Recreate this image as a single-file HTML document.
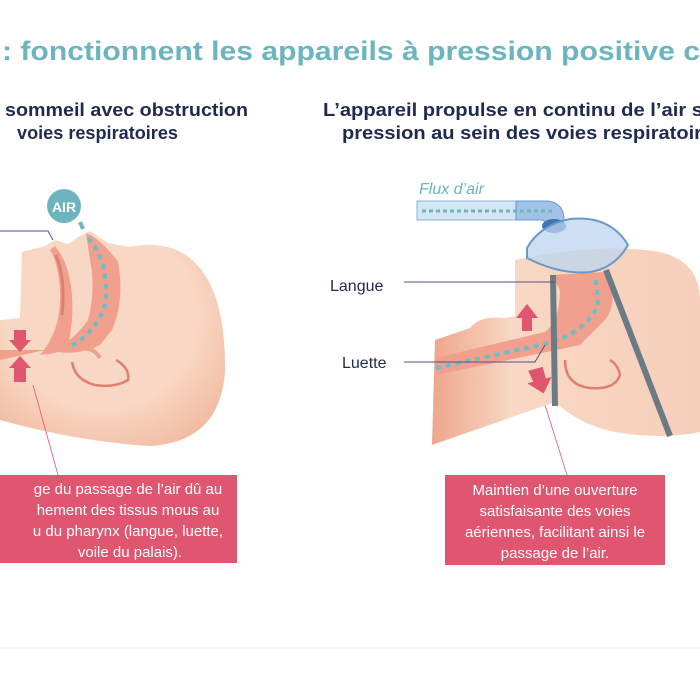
<!DOCTYPE html>
<html><head><meta charset="utf-8"><style>html,body{margin:0;padding:0;background:#fff;width:700px;height:700px;overflow:hidden}svg{display:block}</style></head>
<body>
<svg width="700" height="700" viewBox="0 0 700 700" xmlns="http://www.w3.org/2000/svg" font-family="Liberation Sans, Arial, sans-serif">
<defs>
<radialGradient id="sk" cx="0.45" cy="0.4" r="0.7"><stop offset="0.6" stop-color="#f8d8c4"/><stop offset="1" stop-color="#f1b9a0"/></radialGradient>
<linearGradient id="sk2" x1="0" y1="0" x2="1" y2="0"><stop offset="0" stop-color="#eea68c"/><stop offset="0.3" stop-color="#f8d8c4"/><stop offset="1" stop-color="#f6cfba"/></linearGradient>
</defs>
<rect width="700" height="700" fill="#fff"/>
<text x="2" y="60" font-size="27" font-weight="bold" fill="#6cb5be" textLength="698" lengthAdjust="spacingAndGlyphs">: fonctionnent les appareils à pression positive c</text>
<g font-size="18" font-weight="bold" fill="#1f2a4f">
<text x="5" y="116" textLength="243" lengthAdjust="spacingAndGlyphs">sommeil avec obstruction</text>
<text x="17" y="139" textLength="161" lengthAdjust="spacingAndGlyphs">voies respiratoires</text>
<text x="323" y="116" textLength="380" lengthAdjust="spacingAndGlyphs">L’appareil propulse en continu de l’air s</text>
<text x="342" y="139" textLength="360" lengthAdjust="spacingAndGlyphs">pression au sein des voies respiratoir</text>
</g>
<!-- LEFT HEAD -->
<path d="M0,320 L20,318 L22,252 L45,246 L55,240 L68,244 L80,236 L90,231 L108,243 L130,247 Q175,238 200,268 Q226,300 225,372 Q220,442 150,446 Q80,442 0,420 Z" fill="url(#sk)"/>
<path d="M55,246 Q75,270 72,320 L68,350 L40,355 Q62,330 60,290 Q58,262 50,250 Z" fill="#f0a08c"/>
<path d="M56,255 Q66,280 62,315" stroke="#e07e70" stroke-width="3" fill="none"/>
<path d="M86,233 Q100,238 118,262 Q125,300 112,330 L100,345 Q80,355 58,352 L45,355 Q75,340 88,320 Q96,290 90,260 Z" fill="#f0a08c"/>
<path d="M0,350 L45,350 L0,360 Z" fill="#f0a08c"/>
<path d="M88,238 Q108,260 106,300 Q100,330 68,348" stroke="#6bbfc6" stroke-width="4" stroke-dasharray="5,5" fill="none"/>
<path d="M72,362 Q75,380 95,385 Q115,388 128,380 Q130,368 116,360" stroke="#e07e70" stroke-width="2.5" fill="none"/>
<path d="M78,350 Q92,345 100,358" stroke="#f0a08c" stroke-width="4" fill="none"/>
<circle cx="64" cy="206" r="17" fill="#6cb5be"/>
<text x="64" y="212" font-size="14" font-weight="bold" fill="#fff" text-anchor="middle">AIR</text>
<path d="M80,222 L83,229" stroke="#6cb5be" stroke-width="4"/>
<path d="M14,330 L26,330 L26,340 L31,340 L20,352 L9,340 L14,340 Z" fill="#e0556f"/>
<path d="M20,356 L31,368 L26,368 L26,382 L14,382 L14,368 L9,368 Z" fill="#e0556f"/>
<path d="M0,231 L48,231 L53,240" stroke="#5a4a8a" stroke-width="1" fill="none"/>
<line x1="33" y1="385" x2="58" y2="475" stroke="#e0556f" stroke-width="0.8"/>
<!-- RIGHT HEAD -->
<path d="M515,260 Q600,242 660,252 Q700,262 700,300 L700,432 Q660,440 615,432 Q580,425 555,402 L432,445 L435,340 L470,328 Q480,315 505,318 L515,316 Z" fill="url(#sk2)"/>
<path d="M435,358 L545,332 Q560,320 560,290 L552,275 L605,272 Q620,300 605,320 Q590,335 580,345 L436,375 Z" fill="#f0a08c"/>
<path d="M436,368 L540,345 Q585,335 598,305 L596,280" stroke="#6bbfc6" stroke-width="4" stroke-dasharray="5,5" fill="none"/>
<path d="M565,360 Q565,385 590,388 Q615,390 620,375 Q618,365 610,360" stroke="#e07e70" stroke-width="2.5" fill="none"/>
<rect x="417" y="201" width="99" height="19" fill="#d3e6f5" stroke="#8fb4d6" stroke-width="1"/>
<path d="M516,201 L548,201 Q564,203 564,220 L562,225 L545,228 Q548,220 540,220 L516,220 Z" fill="#9fc3e6" stroke="#6b98c8" stroke-width="1"/>
<path d="M422,211 L555,211" stroke="#6cb5be" stroke-width="3" stroke-dasharray="4,3"/>
<ellipse cx="554" cy="226" rx="12" ry="7" fill="#3f74b0"/>
<path d="M527,248 Q540,225 570,219 Q610,215 628,245 Q615,268 590,272 Q560,275 527,258 Z" fill="#bcd6ef" fill-opacity="0.75" stroke="#6b98c8" stroke-width="2"/>
<text x="419" y="194" font-size="16" font-style="italic" fill="#6cb5be">Flux d’air</text>
<line x1="553" y1="275" x2="555" y2="406" stroke="#6b7b85" stroke-width="6"/>
<line x1="606" y1="270" x2="670" y2="436" stroke="#6b7b85" stroke-width="6"/>
<path d="M527,304 L538,318 L532,318 L532,331 L522,331 L522,318 L516,318 Z" fill="#e0556f"/>
<path d="M531,368 L546,368 L546,380 L552,380 L540,394 L527,380 L533,380 Z" fill="#e0556f" transform="rotate(-15 540 380)"/>
<text x="330" y="291" font-size="16" fill="#1f2a4f">Langue</text>
<line x1="404" y1="282" x2="554" y2="282" stroke="#5a4a8a" stroke-width="1"/>
<text x="342" y="368" font-size="16" fill="#1f2a4f">Luette</text>
<path d="M404,362 L535,362 L545,345" stroke="#5a4a8a" stroke-width="1" fill="none"/>
<line x1="545" y1="405" x2="567" y2="475" stroke="#e0556f" stroke-width="0.8"/>
<rect x="0" y="475" width="237" height="88" fill="#e0556f"/>
<g font-size="15" fill="#fff" text-anchor="middle">
<text x="128" y="494">ge du passage de l’air dû au</text>
<text x="128" y="515">hement des tissus mous au</text>
<text x="128" y="536">u du pharynx (langue, luette,</text>
<text x="130" y="557">voile du palais).</text>
</g>
<rect x="445" y="475" width="220" height="90" fill="#e0556f"/>
<g font-size="15" fill="#fff" text-anchor="middle">
<text x="555" y="495">Maintien d’une ouverture</text>
<text x="555" y="516">satisfaisante des voies</text>
<text x="555" y="537">aériennes, facilitant ainsi le</text>
<text x="555" y="558">passage de l’air.</text>
</g>
<line x1="0" y1="648" x2="700" y2="648" stroke="#e6eef2" stroke-width="1"/>
</svg>
</body></html>
